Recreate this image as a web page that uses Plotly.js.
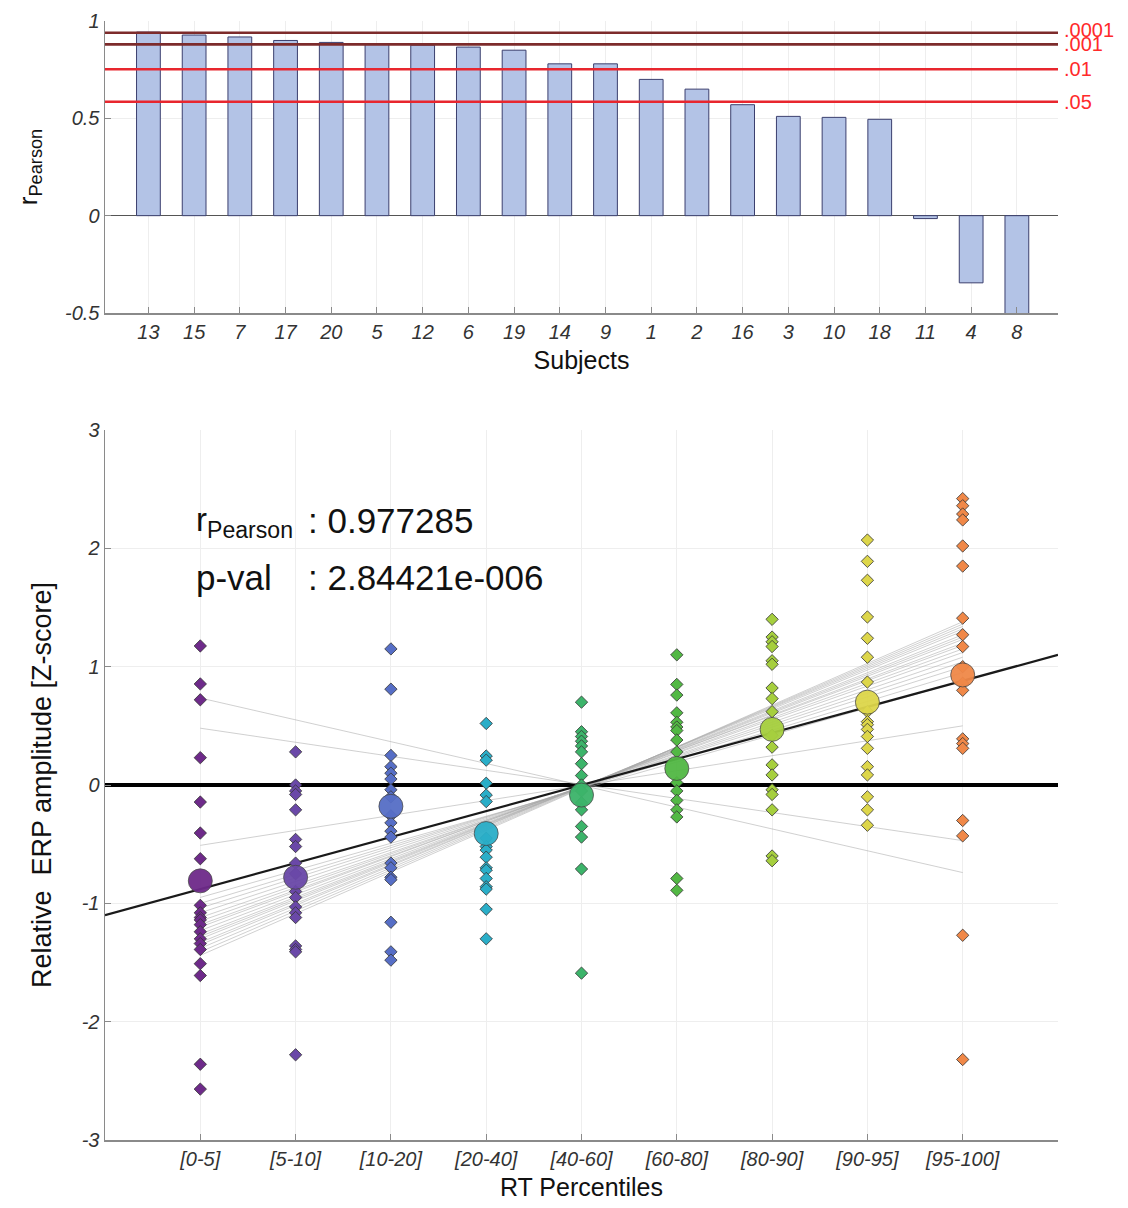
<!DOCTYPE html>
<html>
<head>
<meta charset="utf-8">
<script src="https://cdn.plot.ly/plotly-3.0.1.min.js"></script>
<style>html,body{margin:0;padding:0;background:#fff;}#chart{width:1128px;height:1208px;}</style>
</head>
<body>
<div id="chart"></div>
<script>
// ---------- Top panel data ----------
const subjects = ["13","15","7","17","20","5","12","6","19","14","9","1","2","16","3","10","18","11","4","8"];
const rPearson = [0.943,0.928,0.918,0.900,0.890,0.880,0.876,0.866,0.850,0.780,0.780,0.700,0.650,0.570,0.510,0.505,0.495,-0.015,-0.345,-0.56];
const thresholdValues = [0.940, 0.880, 0.752, 0.585];
const thresholdLabels = [".0001", ".001", ".01", ".05"];
const rTickVals = [-0.5, 0, 0.5, 1];
const rTickText = ["-0.5", "0", "0.5", "1"];

// ---------- Bottom panel data ----------
const percentiles = ["[0-5]","[5-10]","[10-20]","[20-40]","[40-60]","[60-80]","[80-90]","[90-95]","[95-100]"];
const meanZ = [-0.81,-0.78,-0.18,-0.41,-0.085,0.14,0.47,0.70,0.93];
const z_0_5    = [1.175,0.854,0.72,0.231,-0.144,-0.406,-0.623,-1.017,-1.08,-1.12,-1.14,-1.18,-1.24,-1.30,-1.34,-1.39,-1.51,-1.61,-2.36,-2.57];
const z_5_10   = [0.28,0.0,-0.05,-0.08,-0.21,-0.46,-0.52,-0.66,-0.75,-0.90,-0.95,-1.03,-1.08,-1.12,-1.36,-1.39,-1.41,-2.28];
const z_10_20  = [1.15,0.81,0.25,0.155,0.10,0.05,-0.04,-0.10,-0.26,-0.32,-0.39,-0.44,-0.66,-0.70,-0.78,-0.80,-1.16,-1.41,-1.48];
const z_20_40  = [0.52,0.245,0.21,0.015,-0.085,-0.14,-0.45,-0.52,-0.55,-0.61,-0.70,-0.72,-0.79,-0.86,-0.88,-1.05,-1.30];
const z_40_60  = [0.70,0.45,0.41,0.37,0.33,0.28,0.18,0.08,0.0,-0.05,-0.15,-0.21,-0.35,-0.44,-0.71,-1.59];
const z_60_80  = [1.10,0.85,0.76,0.61,0.53,0.49,0.46,0.38,0.28,0.02,-0.05,-0.13,-0.21,-0.27,-0.79,-0.89];
const z_80_90  = [1.40,1.25,1.21,1.17,1.05,1.02,0.82,0.73,0.62,0.42,0.32,0.17,0.085,-0.04,-0.08,-0.21,-0.60,-0.64];
const z_90_95  = [2.07,1.89,1.73,1.42,1.24,1.08,0.87,0.62,0.535,0.51,0.47,0.41,0.31,0.155,0.085,-0.10,-0.21,-0.34];
const z_95_100 = [2.42,2.36,2.29,2.24,2.02,1.85,1.41,1.27,1.17,1.00,0.86,0.80,0.39,0.35,0.31,-0.30,-0.43,-1.27,-2.32];
const binValues = [z_0_5,z_5_10,z_10_20,z_20_40,z_40_60,z_60_80,z_80_90,z_90_95,z_95_100];
const binColors = ["#6e2a8a","#6a48a8","#566ec6","#2aaec8","#3cb46a","#52b844","#a6cf3e","#ddd64a","#f08848"];
const zTickVals = [-3, -2, -1, 0, 1, 2, 3];
const zTickText = ["-3", "-2", "-1", "0", "1", "2", "3"];
// per-subject regression lines: value at first bin and at last bin
const subjLineStart = [0.735,0.48,-0.51,-0.95,-1.00,-1.04,-1.08,-1.12,-1.15,-1.18,-1.20,-1.23,-1.26,-1.28,-1.30,-1.33,-1.35,-1.38,-1.41,-1.44];
const subjLineEnd   = [-0.74,-0.47,0.50,0.88,0.95,1.00,1.04,1.08,1.12,1.15,1.18,1.20,1.23,1.25,1.27,1.30,1.32,1.34,1.36,1.38];
const fitIntercept = -1.1, fitSlope = 0.22;   // group fit over axis range [0,10]
const statR = "0.977285", statP = "2.84421e-006";

const FONT = "Liberation Sans, Arial, Helvetica, sans-serif";
const traces = [];

// top bars
traces.push({
  type: "bar", x: subjects, y: rPearson, xaxis: "x", yaxis: "y",
  width: 0.52,
  marker: {color: "#b3c3e6", line: {color: "#3b3f6e", width: 1}},
  hoverinfo: "x+y", showlegend: false
});

// bottom: subject lines
const firstX = 1, lastX = percentiles.length;
for (let i = 0; i < subjLineStart.length; i++) {
  traces.push({
    type: "scatter", mode: "lines", xaxis: "x2", yaxis: "y2",
    x: [firstX, lastX], y: [subjLineStart[i], subjLineEnd[i]],
    line: {color: "rgba(170,170,170,0.55)", width: 1}, hoverinfo: "skip", showlegend: false
  });
}
// group fit line
traces.push({
  type: "scatter", mode: "lines", xaxis: "x2", yaxis: "y2",
  x: [0, 10], y: [fitIntercept, fitIntercept + fitSlope * 10],
  line: {color: "#1a1a1a", width: 2.2}, hoverinfo: "skip", showlegend: false
});
// diamonds
binValues.forEach((vals, i) => {
  traces.push({
    type: "scatter", mode: "markers", xaxis: "x2", yaxis: "y2",
    x: vals.map(() => i + 1), y: vals,
    marker: {symbol: "diamond", size: 9.5, color: binColors[i], line: {color: "#333", width: 0.8}},
    name: percentiles[i], showlegend: false
  });
});
// means
traces.push({
  type: "scatter", mode: "markers", xaxis: "x2", yaxis: "y2",
  x: percentiles.map((p, i) => i + 1), y: meanZ,
  marker: {symbol: "circle", size: 24, color: binColors, opacity: 0.95, line: {color: "#444", width: 0.8}},
  showlegend: false
});

const shapes = thresholdValues.map((v, i) => ({
  type: "line", xref: "x domain", yref: "y", x0: 0, x1: 1, y0: v, y1: v,
  line: {color: i < 2 ? "#7d2b2b" : "#e8262e", width: 2.6}, layer: "above"
}));

const annotations = thresholdLabels.map((t, i) => ({
  xref: "paper", yref: "y", x: 1062/1128, y: thresholdValues[i] + (i === 0 ? 0.012 : 0),
  xanchor: "left", yanchor: "middle", text: t, showarrow: false,
  font: {family: FONT, size: 20, color: "#ff2a2a"}
}));
annotations.push(
  {xref: "paper", yref: "paper", x: 194/1128, y: 1 - 522/1208, xanchor: "left", yanchor: "middle",
   text: "r<sub>Pearson</sub>", showarrow: false, font: {family: FONT, size: 33, color: "#111"}},
  {xref: "paper", yref: "paper", x: 306/1128, y: 1 - 520/1208, xanchor: "left", yanchor: "middle",
   text: ": " + statR, showarrow: false, font: {family: FONT, size: 35, color: "#111"}},
  {xref: "paper", yref: "paper", x: 194/1128, y: 1 - 577/1208, xanchor: "left", yanchor: "middle",
   text: "p-val", showarrow: false, font: {family: FONT, size: 35, color: "#111"}},
  {xref: "paper", yref: "paper", x: 306/1128, y: 1 - 577/1208, xanchor: "left", yanchor: "middle",
   text: ": " + statP, showarrow: false, font: {family: FONT, size: 35, color: "#111"}}
);

const tickFont = {family: FONT, size: 20, color: "#333", style: "italic"};
const axisCommon = {
  showline: true, linecolor: "#8a8a8a", linewidth: 1.5, mirror: false,
  ticks: "inside", ticklen: 6, tickcolor: "#8a8a8a",
  gridcolor: "#eeeeee", gridwidth: 1, tickfont: tickFont
};
const xDom = [105/1128, 1058/1128];

const layout = {
  width: 1128, height: 1208, margin: {l: 0, r: 0, t: 0, b: 0},
  paper_bgcolor: "#fff", plot_bgcolor: "#fff",
  font: {family: FONT}, showlegend: false, bargap: 0,
  xaxis: Object.assign({}, axisCommon, {
    domain: xDom, anchor: "y", type: "category", range: [-0.95, 19.9],
    showgrid: true,
    title: {text: "Subjects", font: {family: FONT, size: 25, color: "#111"}, standoff: 10}
  }),
  yaxis: Object.assign({}, axisCommon, {
    domain: [1 - 313/1208, 1 - 21/1208], anchor: "x", range: [-0.5, 1],
    tickvals: rTickVals, ticktext: rTickText,
    zeroline: true, zerolinecolor: "#555", zerolinewidth: 1,
    title: {text: "r<sub>Pearson</sub>", font: {family: FONT, size: 26, color: "#111"}, standoff: 20}
  }),
  xaxis2: Object.assign({}, axisCommon, {
    domain: xDom, anchor: "y2", range: [0, 10],
    tickvals: percentiles.map((p, i) => i + 1), ticktext: percentiles,
    showgrid: true,
    title: {text: "RT Percentiles", font: {family: FONT, size: 25, color: "#111"}, standoff: 10}
  }),
  yaxis2: Object.assign({}, axisCommon, {
    domain: [1 - 1140/1208, 1 - 430/1208], anchor: "x2", range: [-3, 3],
    tickvals: zTickVals, ticktext: zTickText,
    zeroline: true, zerolinecolor: "#000", zerolinewidth: 4,
    title: {text: "Relative  ERP amplitude [Z-score]", font: {family: FONT, size: 27, color: "#111"}, standoff: 22}
  }),
  shapes: shapes,
  annotations: annotations
};

Plotly.newPlot("chart", traces, layout, {displayModeBar: false, staticPlot: true});
</script>
</body>
</html>
